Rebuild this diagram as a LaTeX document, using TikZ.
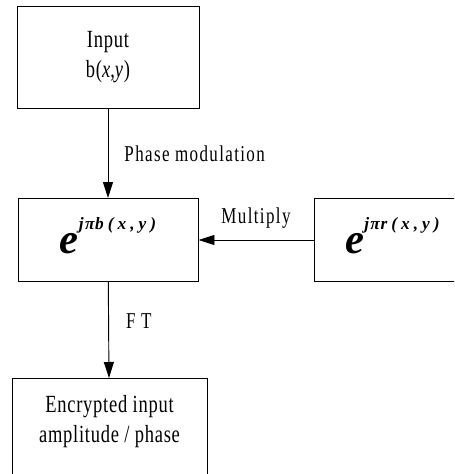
\documentclass[tikz,border=0pt]{standalone}
\usepackage{fontspec}
\setmainfont{Liberation Serif}[FakeStretch=0.75, LetterSpace=3]
\newfontfamily\tagfont{Liberation Serif}[FakeStretch=0.75, LetterSpace=6]
\newfontfamily\expfont{Liberation Serif}
\usetikzlibrary{arrows.meta}

% e raised to j pi <letter>(x,y)
\newcommand{\phaseexp}[1]{{\expfont\fontsize{32pt}{32pt}\selectfont\bfseries\itshape e}\raisebox{18pt}{\expfont\fontsize{13pt}{13pt}\selectfont\bfseries\itshape j\kern1pt π\kern0.5pt #1\hspace{3pt}(\hspace{3pt}x\hspace{3pt},\hspace{3pt}y\hspace{3pt})}}

\begin{document}
\begin{tikzpicture}[x=0.75pt, y=-0.75pt,
    block/.style={draw, line width=0.7pt, inner sep=0pt, align=center,
                  font=\fontsize{18.5pt}{22pt}\selectfont},
    expblock/.style={draw, line width=0.7pt, inner sep=0pt, text depth=7pt,
                     minimum height=62.25pt},
    flow/.style={-{Triangle[length=12pt, width=7.5pt]}, line width=0.7pt},
    tag/.style={font=\tagfont\fontsize{17pt}{17pt}\selectfont, inner sep=0pt}]

            % fix the size of the picture
            \useasboundingbox (0,0) rectangle (454,474);
            \clip (0,0) rectangle (454,474);

            % draw the input box
            \node[block, minimum width=136.5pt, minimum height=76.5pt] (input) at (108,57) {Input\\ b(\textit{x},\textit{y})};

            % draw the phase box and the random phase box
            \node[expblock, minimum width=135pt] (phase) at (108,240) {\phaseexp{b}};
            \node[expblock, minimum width=117.75pt] (random) at (392.5,240) {\phaseexp{r}};

            % draw the output box, it runs off the bottom
            \node[block, anchor=north, minimum width=146.25pt, inner ysep=13pt, text depth=50pt] (output) at (109.5,378) {Encrypted input\\ amplitude / phase};

            % input to phase box
            \draw[flow] (input) -- (phase) node[tag, midway, anchor=west, xshift=12pt] {Phase modulation};

            % random phase into phase box
            \draw[flow] (random) -- (phase) node[tag, midway, anchor=south, yshift=8pt] {Multiply};

            % phase box to output
            \draw[flow] (phase) -- (output) node[tag, midway, anchor=west, xshift=12.75pt, yshift=6.4pt] {F T};
\end{tikzpicture}
\end{document}
